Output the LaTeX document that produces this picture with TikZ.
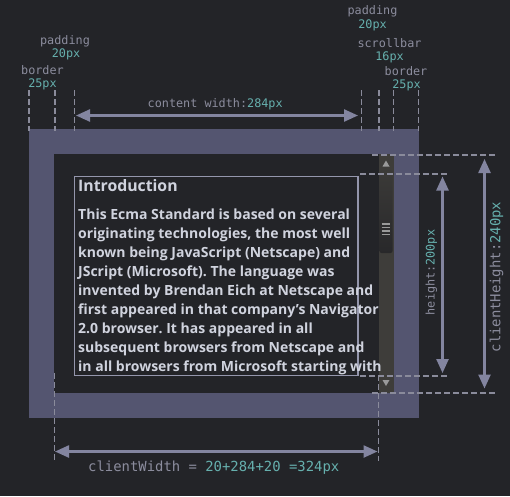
\documentclass[tikz,border=0pt]{standalone}
\usepackage{fontspec}
\usetikzlibrary{arrows.meta}
\newfontfamily\bodyfont{Open Sans}
\newfontfamily\codefont{DejaVu Sans Mono}
\frenchspacing

\definecolor{bg}{HTML}{232428}
\definecolor{band}{HTML}{545570}
\definecolor{lbl}{HTML}{8C8D9E}
\definecolor{num}{HTML}{66B0AE}
\definecolor{dim}{HTML}{8385A0}
\definecolor{guidecol}{HTML}{8A8B9B}
\definecolor{bodytext}{HTML}{D0D3DE}
\definecolor{boxline}{HTML}{9496AC}
\definecolor{track}{HTML}{3E3D3A}
\definecolor{thumbtop}{HTML}{3B3A38}
\definecolor{thumbbot}{HTML}{28282A}
\definecolor{grip}{HTML}{9A9A9A}

\tikzset{
  guide/.style={draw=guidecol, line width=1.8pt, dash pattern=on 6pt off 3pt},
  dimline/.style={draw=dim, line width=2.4pt,
    {Triangle[length=14pt,width=12pt]}-{Triangle[length=14pt,width=12pt]}},
  tag/.style={font=\codefont\fontsize{11.8}{12}\selectfont, text=lbl, inner sep=0pt},
  bigtag/.style={font=\codefont\fontsize{13.9}{14}\selectfont, text=lbl, inner sep=0pt},
  bodyline/.style={font=\bodyfont\bfseries\fontsize{14}{19}\selectfont, text=bodytext,
    inner sep=0pt, anchor=base west},
}

\begin{document}
\begin{tikzpicture}[x=1pt,y=-1pt]
  % canvas
  \fill[bg] (0,0) rectangle (510,496);
  \useasboundingbox (0,0) rectangle (510,496);

  % border band and padding box
  \fill[band] (29,129) rectangle (419,418);
  \fill[bg] (54,154) rectangle (394,393);

  % scrollbar: track, thumb, grip, arrows
  \fill[track] (378.5,154) rectangle (393.5,393);
  \shade[top color=thumbtop, bottom color=thumbbot, rounded corners=2pt]
    (379.5,170) rectangle (392.5,253);
  \foreach \g in {224,227.5,231,234.5}
    \draw[grip, line width=1.2pt] (381.5,\g) -- (389.5,\g);
  \fill[grip] (386,160.5) -- (389.5,166.5) -- (382.5,166.5) -- cycle;
  \fill[grip] (386,386) -- (389.5,380) -- (382.5,380) -- cycle;

  % content box
  \draw[boxline, line width=1.6pt] (74.5,176.5) rectangle (358,375.5);

  % content text
  \node[bodyline, font=\bodyfont\bfseries\fontsize{15.8}{19}\selectfont] (title) at (78,191.5) {Introduction};
  \foreach \t [count=\i from 0] in {
      {This Ecma Standard is based on several},
      {originating technologies, the most well},
      {known being JavaScript (Netscape) and},
      {JScript (Microsoft). The language was},
      {invented by Brendan Eich at Netscape and},
      {first appeared in that company’s Navigator},
      {2.0 browser. It has appeared in all},
      {subsequent browsers from Netscape and},
      {in all browsers from Microsoft starting with}}
    \node[bodyline] (line\i) at (78,219+19*\i) {\t};

  % guide lines at the top
  \foreach \gx/\gn in {29/gA,55/gB,74.5/gC,361.5/gD,379/gE,393.5/gF,418.5/gG} {
    \coordinate (\gn top) at (\gx,90);
    \coordinate (\gn bot) at (\gx,131);
    \draw[guide] (\gn top) -- (\gn bot);
  }

  % guide lines at the bottom
  \coordinate (gLtop) at (54.5,373);
  \coordinate (gLbot) at (54.5,461);
  \coordinate (gRtop) at (378.5,375);
  \coordinate (gRbot) at (378.5,461);
  \draw[guide] (gLtop) -- (gLbot);
  \draw[guide] (gRtop) -- (gRbot);

  % guide lines on the right
  \coordinate (hA1) at (360,174);   \coordinate (hA2) at (447,174);
  \coordinate (hB1) at (360,376);   \coordinate (hB2) at (447,376);
  \coordinate (hC1) at (372,155);   \coordinate (hC2) at (495,155);
  \coordinate (hD1) at (372,393);   \coordinate (hD2) at (495,393);
  \draw[guide] (hA1) -- (hA2);
  \draw[guide] (hB1) -- (hB2);
  \draw[guide] (hC1) -- (hC2);
  \draw[guide] (hD1) -- (hD2);

  % dimension arrows
  \coordinate (cwL) at (76,115.5);    \coordinate (cwR) at (358,115.5);
  \coordinate (clwL) at (55,451.5);   \coordinate (clwR) at (377.5,451.5);
  \coordinate (hT) at (442.5,176.5);  \coordinate (hB) at (442.5,373);
  \coordinate (chT) at (484.5,159);   \coordinate (chB) at (484.5,388.5);
  \draw[dimline] (cwL) -- (cwR);
  \draw[dimline] (clwL) -- (clwR);
  \draw[dimline] (hT) -- (hB);
  \draw[dimline] (chT) -- (chB);

  % labels
  \node[tag] (padL) at (65,41) {padding};
  \node[tag, text=num] (padLv) at (66,54.5) {20px};
  \node[tag] (borL) at (42.5,70.5) {border};
  \node[tag, text=num] (borLv) at (42.5,84.5) {25px};

  \node[tag] (padR) at (372.5,11.5) {padding};
  \node[tag, text=num] (padRv) at (372.5,25.5) {20px};
  \node[tag] (scrR) at (389.5,43.5) {scrollbar};
  \node[tag, text=num] (scrRv) at (389.5,57.5) {16px};
  \node[tag] (borR) at (406,71) {border};
  \node[tag, text=num] (borRv) at (406.5,85) {25px};

  \node[tag, anchor=west] (cwlabel) at (147.5,104.5) {content width:\textcolor{num}{284px}};
  \node[bigtag, anchor=west] (clwlabel) at (88,468) {clientWidth = \textcolor{num}{20+284+20 =324px}};
  \node[tag, rotate=90] (hlabel) at (431.5,272.5) {height:\textcolor{num}{200px}};
  \node[bigtag, rotate=90] (chlabel) at (496.5,277) {clientHeight:\textcolor{num}{240px}};
\end{tikzpicture}
\end{document}
